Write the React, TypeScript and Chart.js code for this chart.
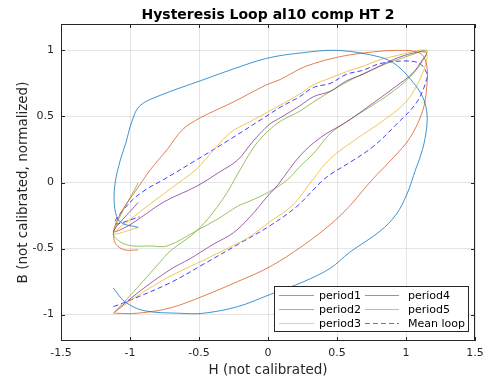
import React, { useEffect, useRef } from "react";
import { Chart, registerables } from "chart.js";

Chart.register(...registerables);

const titleText = "Hysteresis Loop al10 comp HT 2";
const xLabel = "H (not calibrated)";
const yLabel = "B (not calibrated, normalized)";

const xTickValues = [-1.5, -1, -0.5, 0, 0.5, 1, 1.5];
const xTickLabels = ["-1.5", "-1", "-0.5", "0", "0.5", "1", "1.5"];
const yTickValues = [-1, -0.5, 0, 0.5, 1];
const yTickLabels = ["-1", "-0.5", "0", "0.5", "1"];

const seriesNames = ["period1", "period2", "period3", "period4", "period5", "Mean loop"];
const seriesColors = ["#0072BD", "#D95319", "#EDB120", "#7E2F8E", "#77AC30", "#0000FF"];

const period1H = [-1.12, -1.04, -0.9, -0.64, -0.47, -0.22, 0.01, 0.26, 0.45, 0.59, 0.81, 0.93, 1.01, 1.07, 1.12, 1.15, 1.15, 1.12, 1.05, 0.93, 0.81, 0.51, 0.23, -0.01, -0.25, -0.49, -0.78, -0.93, -0.99, -1.03, -1.07, -1.11, -1.11, -1.07, -0.94];
const period1B = [-0.8, -0.9, -0.97, -0.99, -0.99, -0.94, -0.85, -0.75, -0.65, -0.53, -0.37, -0.24, -0.08, 0.1, 0.25, 0.42, 0.54, 0.65, 0.76, 0.89, 0.95, 1.0, 0.98, 0.94, 0.86, 0.77, 0.66, 0.58, 0.45, 0.3, 0.17, -0.02, -0.2, -0.3, -0.34];

const period2H = [-1.11, -0.95, -0.71, -0.47, -0.22, 0.01, 0.25, 0.45, 0.59, 0.72, 0.79, 0.91, 1.03, 1.12, 1.15, 1.15, 1.1, 0.93, 0.69, 0.51, 0.33, 0.23, 0.09, -0.01, -0.25, -0.49, -0.62, -0.73, -0.85, -0.95, -1.05, -1.11, -1.12, -1.1, -1.04, -0.94];
const period2B = [-0.99, -0.99, -0.95, -0.86, -0.75, -0.64, -0.48, -0.32, -0.18, -0.02, 0.06, 0.19, 0.34, 0.54, 0.72, 0.89, 0.98, 1.0, 0.98, 0.95, 0.9, 0.86, 0.78, 0.74, 0.61, 0.49, 0.4, 0.25, 0.1, -0.05, -0.2, -0.33, -0.4, -0.47, -0.51, -0.51];

const period3H = [-1.12, -0.95, -0.71, -0.45, -0.22, -0.13, 0.01, 0.18, 0.33, 0.45, 0.64, 0.81, 1.0, 1.1, 1.15, 1.14, 1.05, 0.93, 0.81, 0.69, 0.57, 0.45, 0.33, 0.23, 0.01, -0.15, -0.27, -0.4, -0.52, -0.71, -1.0, -1.12, -0.94];
const period3B = [-0.99, -0.86, -0.71, -0.58, -0.46, -0.41, -0.3, -0.17, 0.03, 0.18, 0.33, 0.45, 0.61, 0.78, 0.93, 1.0, 0.99, 0.96, 0.93, 0.88, 0.84, 0.79, 0.74, 0.67, 0.54, 0.45, 0.38, 0.24, 0.1, -0.05, -0.28, -0.39, -0.34];

const period4H = [-1.12, -0.95, -0.71, -0.57, -0.4, -0.25, -0.13, 0.0, 0.07, 0.23, 0.38, 0.57, 0.76, 0.93, 1.05, 1.12, 1.15, 1.1, 0.93, 0.69, 0.57, 0.45, 0.33, 0.23, 0.09, 0.01, -0.11, -0.22, -0.35, -0.52, -0.76, -1.0, -1.12, -0.94];
const period4B = [-0.99, -0.84, -0.66, -0.58, -0.47, -0.38, -0.26, -0.1, -0.02, 0.2, 0.34, 0.46, 0.6, 0.73, 0.83, 0.93, 0.98, 0.99, 0.94, 0.82, 0.77, 0.69, 0.65, 0.58, 0.49, 0.44, 0.31, 0.17, 0.08, -0.03, -0.15, -0.32, -0.37, -0.15];

const period5H = [-1.12, -0.95, -0.78, -0.71, -0.51, -0.33, -0.2, -0.08, 0.07, 0.23, 0.33, 0.57, 0.81, 1.05, 1.15, 1.12, 1.03, 0.88, 0.69, 0.57, 0.45, 0.33, 0.23, 0.14, 0.01, -0.13, -0.22, -0.37, -0.51, -0.73, -0.86, -0.98, -1.07, -1.12, -0.94];
const period5B = [-0.99, -0.8, -0.6, -0.52, -0.36, -0.13, 0.1, 0.3, 0.45, 0.54, 0.61, 0.76, 0.88, 0.97, 1.0, 0.92, 0.8, 0.67, 0.54, 0.46, 0.37, 0.22, 0.12, 0.02, -0.07, -0.14, -0.18, -0.28, -0.36, -0.48, -0.48, -0.48, -0.45, -0.38, 0.0];

const meanH = [-1.12, -1.02, -0.71, -0.47, -0.22, 0.01, 0.21, 0.38, 0.45, 0.59, 0.76, 0.93, 1.08, 1.15, 1.15, 1.1, 1.0, 0.81, 0.69, 0.57, 0.45, 0.33, 0.23, 0.09, -0.03, -0.27, -0.52, -0.76, -0.88, -1.0, -1.11, -0.93];
const meanB = [-0.94, -0.9, -0.76, -0.62, -0.47, -0.33, -0.18, 0.0, 0.06, 0.15, 0.27, 0.44, 0.61, 0.78, 0.83, 0.9, 0.92, 0.9, 0.85, 0.82, 0.75, 0.72, 0.65, 0.57, 0.49, 0.33, 0.17, 0.02, -0.05, -0.15, -0.31, -0.26];

const seriesH = [period1H, period2H, period3H, period4H, period5H, meanH];
const seriesB = [period1B, period2B, period3B, period4B, period5B, meanB];

const FONT = "'DejaVu Sans', sans-serif";
const AXIS_COLOR = "#262626";

function toPoints(h: number[], b: number[]) {
  return h.map((x, i) => ({ x, y: b[i] }));
}

function labelFor(values: number[], labels: string[], v: number) {
  const i = values.findIndex((t) => Math.abs(t - v) < 1e-9);
  return i >= 0 ? labels[i] : "";
}

function withAlpha(hex: string, a: number) {
  const r = parseInt(hex.slice(1, 3), 16);
  const g = parseInt(hex.slice(3, 5), 16);
  const b = parseInt(hex.slice(5, 7), 16);
  return `rgba(${r},${g},${b},${a})`;
}

const decorPlugin = {
  id: "decor",
  afterDraw(chart: any) {
    const ctx = chart.ctx as CanvasRenderingContext2D;
    const a = chart.chartArea;
    const xs = chart.scales.x;
    const ys = chart.scales.y;
    ctx.save();
    ctx.strokeStyle = AXIS_COLOR;
    ctx.lineWidth = 1;
    ctx.strokeRect(a.left + 0.5, a.top + 0.5, a.right - a.left - 1, a.bottom - a.top - 1);
    ctx.beginPath();
    const tl = 4;
    xTickValues.forEach((v) => {
      const px = Math.round(xs.getPixelForValue(v)) + 0.5;
      ctx.moveTo(px, a.bottom);
      ctx.lineTo(px, a.bottom - tl);
      ctx.moveTo(px, a.top);
      ctx.lineTo(px, a.top + tl);
    });
    yTickValues.forEach((v) => {
      const py = Math.round(ys.getPixelForValue(v)) + 0.5;
      ctx.moveTo(a.left, py);
      ctx.lineTo(a.left + tl, py);
      ctx.moveTo(a.right, py);
      ctx.lineTo(a.right - tl, py);
    });
    ctx.stroke();

    const cx = (a.left + a.right) / 2;
    ctx.fillStyle = "#000000";
    ctx.textAlign = "center";
    ctx.textBaseline = "alphabetic";
    ctx.font = `bold 14px ${FONT}`;
    ctx.fillText(titleText, cx, 19);

    ctx.fillStyle = AXIS_COLOR;
    ctx.font = `13.5px ${FONT}`;
    ctx.fillText(xLabel, cx, 374);
    ctx.save();
    ctx.translate(27, (a.top + a.bottom) / 2);
    ctx.rotate(-Math.PI / 2);
    ctx.fillText(yLabel, 0, 0);
    ctx.restore();

    const lx = 274, ly = 286, lw = 195, lh = 46;
    ctx.fillStyle = "#ffffff";
    ctx.fillRect(lx, ly, lw, lh);
    ctx.strokeStyle = AXIS_COLOR;
    ctx.lineWidth = 1;
    ctx.strokeRect(lx + 0.5, ly + 0.5, lw - 1, lh - 1);
    const colLine = [[279, 314], [365, 399]];
    const colText = [319, 408];
    const rows = [295, 309, 323];
    ctx.font = `11px ${FONT}`;
    ctx.textAlign = "left";
    ctx.textBaseline = "middle";
    seriesNames.forEach((name, i) => {
      const col = Math.floor(i / 3);
      const row = i % 3;
      const y = rows[row] + 0.5;
      ctx.beginPath();
      ctx.strokeStyle = withAlpha(seriesColors[i], 0.6);
      ctx.lineWidth = 1;
      ctx.setLineDash(i === 5 ? [5, 3] : []);
      ctx.moveTo(colLine[col][0], y);
      ctx.lineTo(colLine[col][1], y);
      ctx.stroke();
      ctx.setLineDash([]);
      ctx.fillStyle = "#000000";
      ctx.fillText(name, colText[col], rows[row] + 1);
    });
    ctx.restore();
  },
};

export default function App() {
  const ref = useRef<HTMLCanvasElement | null>(null);
  useEffect(() => {
    const canvas = ref.current;
    if (!canvas) return;
    const datasets = seriesNames.map((name, i) => ({
      label: name,
      data: toPoints(seriesH[i], seriesB[i]),
      showLine: true,
      borderColor: withAlpha(seriesColors[i], 0.75),
      backgroundColor: seriesColors[i],
      borderWidth: 1,
      borderDash: i === 5 ? [5, 3] : [],
      pointRadius: 0,
      tension: 0.35,
      fill: false,
    }));
    const chart = new Chart(canvas, {
      type: "scatter",
      data: { datasets },
      options: {
        animation: false,
        responsive: false,
        devicePixelRatio: 1,
        layout: { padding: { top: 24, right: 15, left: 0, bottom: 0 } },
        plugins: {
          legend: { display: false },
          title: { display: false },
          tooltip: { enabled: false },
        },
        scales: {
          x: {
            type: "linear",
            min: -1.5,
            max: 1.5,
            afterBuildTicks: (s: any) => {
              s.ticks = xTickValues.map((v) => ({ value: v }));
            },
            afterFit: (s: any) => {
              s.height = 42;
            },
            grid: { color: "rgba(38,38,38,0.12)", drawTicks: false },
            border: { display: false },
            ticks: {
              padding: 6,
              color: AXIS_COLOR,
              font: { family: FONT, size: 11 },
              maxRotation: 0,
              callback: (v: any) => labelFor(xTickValues, xTickLabels, Number(v)),
            },
          },
          y: {
            type: "linear",
            min: -1.2,
            max: 1.2,
            afterBuildTicks: (s: any) => {
              s.ticks = yTickValues.map((v) => ({ value: v }));
            },
            afterFit: (s: any) => {
              s.width = 61;
            },
            grid: { color: "rgba(38,38,38,0.12)", drawTicks: false },
            border: { display: false },
            ticks: {
              padding: 7,
              color: AXIS_COLOR,
              font: { family: FONT, size: 11 },
              callback: (v: any) => labelFor(yTickValues, yTickLabels, Number(v)),
            },
          },
        },
      },
      plugins: [decorPlugin],
    });
    return () => chart.destroy();
  }, []);
  return (
    <div style={{ position: "absolute", left: 0, top: 0, width: 490, height: 383, background: "#ffffff" }}>
      <canvas ref={ref} width={490} height={383} style={{ width: 490, height: 383 }} />
    </div>
  );
}
